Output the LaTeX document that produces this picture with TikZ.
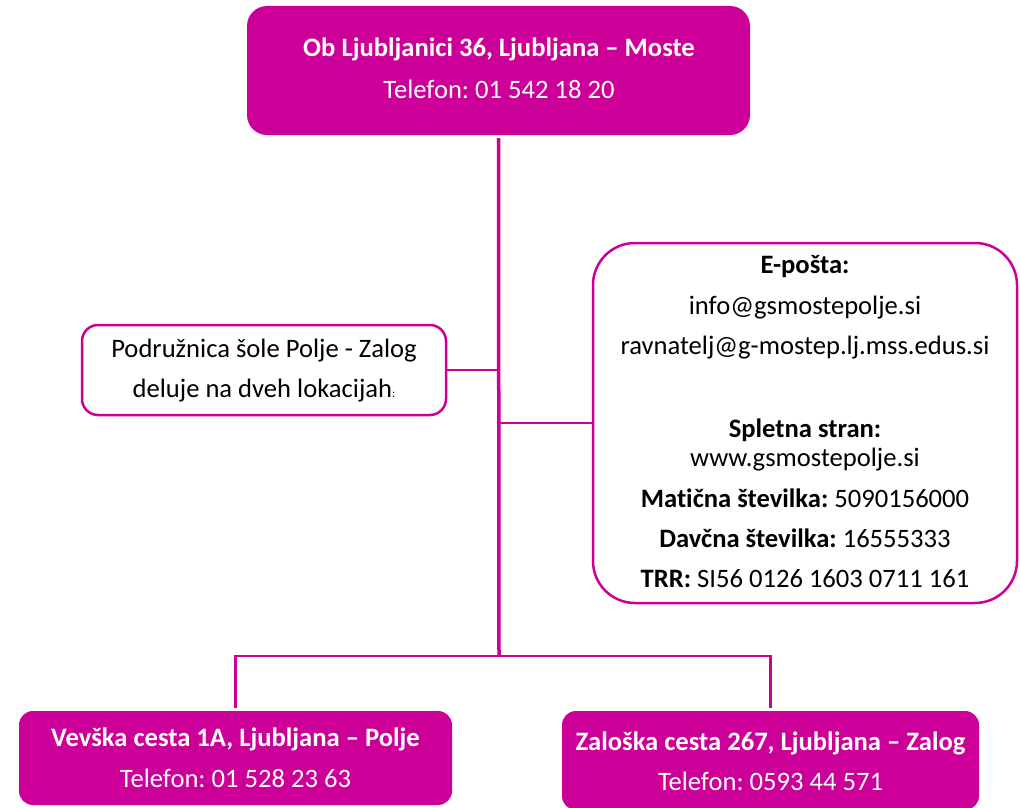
\documentclass[tikz,border=0pt]{standalone}
\usepackage{fontspec}
\setmainfont{Carlito}[Ligatures=NoCommon]
\definecolor{mag}{HTML}{CC0099}
\frenchspacing
\begin{document}
\frenchspacing
\begin{tikzpicture}[x=1pt,y=-1pt,
  magbox/.style={fill=mag, rounded corners=#1, inner sep=0pt, draw=none},
  wbox/.style={draw=mag, line width=2.5pt, fill=white, rounded corners=#1, inner sep=0pt},
  wtxt/.style={text=white, anchor=base, inner sep=0pt, font=\fontsize{26.6}{31}\selectfont},
  btxt/.style={text=black, anchor=base, inner sep=0pt, font=\fontsize{26.6}{31}\selectfont},
  conn/.style={draw=mag, line width=2.5pt},
  trunk/.style={draw=mag, line width=3.5pt}]
\useasboundingbox (0,0) rectangle (1020,808);
% boxes
\node[magbox=20pt, minimum width=503pt, minimum height=129pt] (top) at (498.5,70.5) {};
\node[wbox=16pt, minimum width=364pt, minimum height=90pt] (lb) at (264,370) {};
\node[wbox=42pt, minimum width=424pt, minimum height=360pt] (rb) at (805,423) {};
\node[magbox=14pt, minimum width=433pt, minimum height=94pt] (bl) at (235.5,758) {};
\node[magbox=14pt, minimum width=417pt, minimum height=99pt] (br) at (770.5,760.5) {};
% connectors
\coordinate (j) at (499,656);
\draw[trunk, shorten <=3pt] (top.south) -- (j);
\draw[conn] (lb.east) -- (lb.east -| j);
\draw[conn] (rb.west) -- (rb.west -| j);
\draw[conn, shorten >=3pt] (j) -| (bl.north);
\draw[conn, shorten >=3pt] (j) -| (br.north);
% texts top
\node[wtxt] (t1) at (499,57) {\bfseries Ob Ljubljanici 36, Ljubljana – Moste};
\node[wtxt] (t2) at (499,98) {Telefon: 01 542 18 20};
% left box
\node[btxt] (l1) at (264,357) {Podružnica šole Polje - Zalog};
\node[btxt] (l2) at (264,397) {deluje na dveh lokacijah{\fontsize{12}{14}\selectfont :}};
% right box
\node[btxt] (r1) at (805,273) {\bfseries E-pošta:};
\node[btxt] (r2) at (805,314) {info@gsmostepolje.si};
\node[btxt] (r3) at (805,354) {ravnatelj@g-mostep.lj.mss.edus.si};
\node[btxt] (r4) at (805,437) {\bfseries Spletna stran:};
\node[btxt] (r5) at (805,466) {www.gsmostepolje.si};
\node[btxt] (r6) at (805,507) {\textbf{Matična številka:} 5090156000};
\node[btxt] (r7) at (805,547) {\textbf{Davčna številka:} 16555333};
\node[btxt] (r8) at (805,587) {\textbf{TRR:} SI56 0126 1603 0711 161};
% bottom boxes
\node[wtxt] (b1) at (235.5,746) {\bfseries Vevška cesta 1A, Ljubljana – Polje};
\node[wtxt] (b2) at (235.5,787) {Telefon: 01 528 23 63};
\node[wtxt] (c1) at (770.5,750) {\bfseries Zaloška cesta 267, Ljubljana – Zalog};
\node[wtxt] (c2) at (770.5,790) {Telefon: 0593 44 571};
\end{tikzpicture}
\end{document}
